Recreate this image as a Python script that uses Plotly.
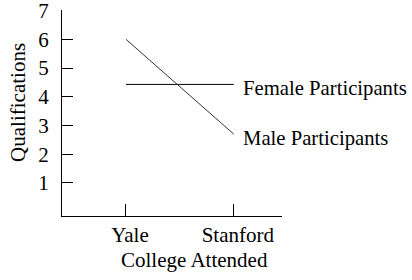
import plotly.graph_objects as go

colleges = ["Yale", "Stanford"]
female = [4.43, 4.43]
male = [6.0, 2.7]
series_names = ["Female Participants", "Male Participants"]
y_ticks = [1, 2, 3, 4, 5, 6, 7]

FONT = "Liberation Serif, Times New Roman, serif"
FS = 21

fig = go.Figure()
fig.add_trace(go.Scatter(x=colleges, y=female, mode="lines",
                         line=dict(color="black", width=1), name=series_names[0]))
fig.add_trace(go.Scatter(x=colleges, y=male, mode="lines",
                         line=dict(color="#333", width=1), name=series_names[1]))

for name, vals, ys in [(series_names[0], female, -4), (series_names[1], male, -4)]:
    fig.add_annotation(x=colleges[-1], y=vals[-1], text=name, showarrow=False,
                       xanchor="left", yanchor="middle", xshift=7, yshift=ys,
                       font=dict(family=FONT, size=20.7, color="black"))

fig.add_annotation(xref="paper", yref="paper", x=-0.2, y=0.549, text="Qualifications",
                   textangle=-90, showarrow=False, xanchor="center", yanchor="middle",
                   font=dict(family=FONT, size=FS, color="black"))
fig.add_annotation(xref="paper", yref="paper", x=0.6, y=-0.214, text="College Attended",
                   showarrow=False, xanchor="center", yanchor="middle",
                   font=dict(family=FONT, size=FS, color="black"))

fig.update_layout(
    width=412, height=280,
    margin=dict(l=62, r=130, t=10, b=64, autoexpand=False),
    paper_bgcolor="white", plot_bgcolor="white",
    showlegend=False, hovermode=False,
    font=dict(family=FONT, size=FS, color="black"),
    xaxis=dict(type="category", range=[-0.593, 1.447], showline=True, linecolor="black",
               linewidth=1, ticks="inside", ticklen=12, tickcolor="black", showgrid=False,
               zeroline=False, mirror=False, automargin=False, ticklabeloverflow="allow",
               ticklabelshift=4),
    yaxis=dict(range=[-0.15, 7.02], tickvals=y_ticks, showline=True, linecolor="black",
               linewidth=1, ticks="inside", ticklen=11, tickcolor="black", showgrid=False,
               zeroline=False, ticklabelstandoff=8, automargin=False,
               ticklabeloverflow="allow"),
)

fig.write_html("out.html", config={"displayModeBar": False, "staticPlot": True},
               post_script="document.body.style.margin='0';document.body.style.padding='0';")
